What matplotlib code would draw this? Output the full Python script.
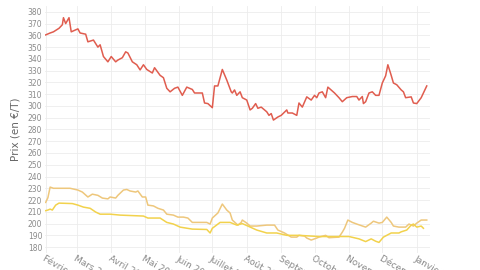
import matplotlib
matplotlib.use("Agg")
import matplotlib.pyplot as plt
import pandas as pd

start = pd.Timestamp("2023-02-01")

red_days = [0, 4, 7, 12, 15, 16, 18, 21, 23, 29, 31, 36, 38, 43, 47, 49, 52, 56, 59, 63, 65, 69, 72, 74, 78, 82, 85, 88, 91, 96, 98, 103, 106, 109, 112, 116, 119, 123, 127, 132, 134, 141, 143, 146, 150, 152, 155, 159, 163, 167, 168, 170, 172, 175, 177, 181, 184, 186, 189, 191, 194, 199, 201, 203, 205, 209, 212, 217, 218, 222, 226, 228, 231, 235, 239, 242, 244, 246, 249, 252, 254, 260, 264, 267, 271, 276, 280, 282, 285, 286, 288, 291, 294, 297, 300, 303, 306, 308, 311, 313, 316, 320, 322, 324, 329, 331, 334, 338, 340, 343]
red_vals = [360.4, 362, 363, 366, 369, 375, 370, 375, 363, 365.5, 362, 361, 354.5, 356, 350, 352, 342, 337.5, 342, 337.5, 339, 341, 346, 345, 337.5, 335, 330.6, 335, 331, 328, 332.5, 326, 324, 315, 312, 315, 316, 309, 316, 314, 311, 311, 302.5, 302, 298.5, 317, 317, 331, 322, 312, 311, 313.6, 309, 312, 307, 305, 296.6, 298, 302, 298, 299, 295, 292, 293.5, 288, 290.6, 292, 296.6, 294, 294, 292, 302.5, 299, 307.7, 305, 309, 307, 311, 312, 307, 316, 311, 307, 303.6, 307, 308, 308, 305, 308, 302, 303.6, 311, 312, 309, 309, 319.5, 325.6, 335, 326, 319.5, 318, 313.6, 312, 307, 307.7, 302.5, 302, 307, 311, 317]

tan_days = [0, 2, 4, 7, 13, 22, 29, 33, 38, 42, 47, 51, 56, 58, 63, 65, 70, 73, 76, 81, 83, 87, 90, 92, 97, 101, 106, 109, 115, 119, 124, 128, 132, 139, 145, 148, 150, 155, 159, 163, 166, 168, 173, 176, 177, 181, 184, 190, 199, 206, 209, 215, 221, 226, 228, 233, 235, 239, 244, 246, 252, 255, 264, 267, 269, 272, 276, 280, 288, 293, 295, 300, 303, 307, 311, 313, 318, 324, 327, 331, 334, 338, 343]
tan_vals = [218, 222, 231, 230, 230, 230, 228.5, 226.8, 222.6, 225, 224, 221.7, 221, 222.6, 221.7, 224, 228.5, 229, 227.7, 226.8, 227.7, 222.6, 222.6, 215.7, 215, 213, 211.5, 208, 207.2, 205.5, 205.5, 204.7, 201, 201, 201, 199.6, 204.7, 209, 216.6, 211.5, 209, 203, 198.7, 201, 203, 200.4, 197.9, 197.9, 198.7, 198.7, 194.5, 192, 188.5, 188.5, 190, 189.4, 187.7, 186, 187.7, 188.5, 190, 188, 188.5, 192.7, 196, 203, 201, 199.6, 197, 200.4, 202, 200.4, 201, 205.5, 201, 197.9, 197, 197, 199.6, 197.9, 200.4, 203, 203]

yel_days = [0, 2, 4, 6, 9, 12, 24, 29, 34, 40, 45, 49, 58, 67, 88, 92, 103, 109, 115, 121, 132, 145, 148, 150, 157, 166, 172, 177, 182, 190, 199, 208, 217, 228, 246, 264, 273, 282, 288, 293, 297, 300, 304, 311, 318, 320, 325, 329, 331, 334, 338, 340]
yel_vals = [211, 211.5, 212.3, 211.5, 215.7, 217.4, 217, 215.7, 214, 213, 209.8, 208, 208, 207.2, 206.4, 204.7, 204.7, 201, 199.6, 197, 195.3, 195, 192, 196, 201, 201, 198.7, 200, 197.9, 194.5, 192, 192, 190, 190, 189, 189, 189, 187, 184.7, 187, 185, 184, 188.5, 192, 192, 193, 194.5, 198.7, 199.6, 197, 197.9, 196]

month_labels = ["Février 2023", "Mars 2023", "Avril 2023", "Mai 2023", "Juin 2023", "Juillet 2023",
                "Août 2023", "Septembre 2023", "Octobre 2023", "Novembre 2023", "Décembre 2023", "Janvier 2024"]
y_ticks = list(range(180, 381, 10))

def to_dates(days):
    return [start + pd.Timedelta(days=d) for d in days]

fig = plt.figure(figsize=(4.8, 2.7), dpi=100)
ax = fig.add_axes([0.094, 0.063, 0.802, 0.915])

ax.plot(to_dates(tan_days), tan_vals, color="#EEC77C", lw=1.1)
ax.plot(to_dates(yel_days), yel_vals, color="#F2D24C", lw=1.1)
ax.plot(to_dates(red_days), red_vals, color="#E05D4F", lw=1.1)

ax.set_ylim(175, 385)
ax.set_xlim(start - pd.Timedelta(days=0.5), start + pd.Timedelta(days=346))
ax.set_yticks(y_ticks)
ax.set_yticklabels([str(v) for v in y_ticks], fontsize=5.5, color="#8a8a8a")
month_ticks = [start + pd.DateOffset(months=i) for i in range(12)]
ax.set_xticks(month_ticks)
ax.set_xticklabels(month_labels, rotation=-30, ha="left", va="top",
                   rotation_mode="anchor", fontsize=6.5, color="#8a8a8a")
ax.tick_params(axis="both", length=0, pad=2)
ax.tick_params(axis="x", pad=1)
for s in ax.spines.values():
    s.set_visible(False)
ax.grid(True, color="#ececec", lw=0.6)
ax.set_axisbelow(True)
ax.set_ylabel("Prix (en €/T)", fontsize=7.5, color="#666666", labelpad=5)

fig.savefig("out.png", dpi=100)
